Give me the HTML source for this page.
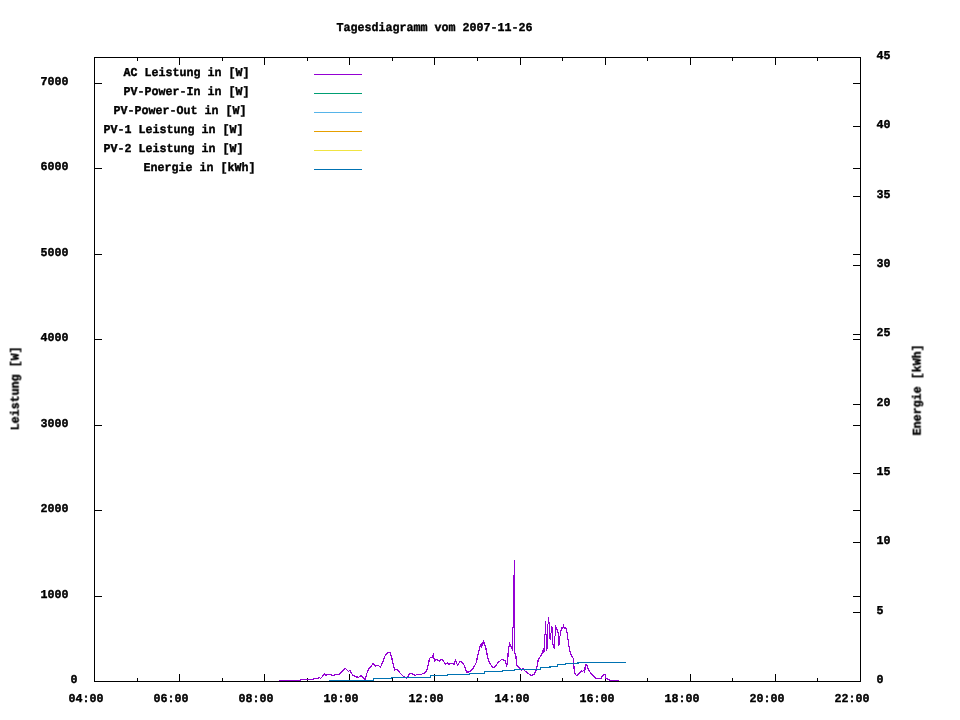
<!DOCTYPE html>
<html lang="de"><head><meta charset="utf-8"><title>Tagesdiagramm vom 2007-11-26</title>
<style>
html,body{margin:0;padding:0;background:#fff;}
svg{display:block}
text{font-family:"Liberation Mono","DejaVu Sans Mono",monospace;font-weight:bold;font-size:12.0px;text-rendering:geometricPrecision;fill:#000;stroke:#000;stroke-width:0.4px;stroke-linejoin:round;}
.t{filter:grayscale(1);}
</style></head><body>
<svg width="960" height="720" viewBox="0 0 960 720">
<rect x="0" y="0" width="960" height="720" fill="#fff"/>
<g shape-rendering="crispEdges">
<rect x="94" y="57" width="767" height="1" fill="#000"/>
<rect x="94" y="681" width="767" height="1" fill="#000"/>
<rect x="94" y="57" width="1" height="625" fill="#000"/>
<rect x="860" y="57" width="1" height="625" fill="#000"/>
<rect x="94" y="674" width="1" height="8" fill="#000"/>
<rect x="94" y="57" width="1" height="8" fill="#000"/>
<rect x="137" y="678" width="1" height="4" fill="#000"/>
<rect x="137" y="57" width="1" height="4" fill="#000"/>
<rect x="179" y="674" width="1" height="8" fill="#000"/>
<rect x="179" y="57" width="1" height="8" fill="#000"/>
<rect x="222" y="678" width="1" height="4" fill="#000"/>
<rect x="222" y="57" width="1" height="4" fill="#000"/>
<rect x="264" y="674" width="1" height="8" fill="#000"/>
<rect x="264" y="57" width="1" height="8" fill="#000"/>
<rect x="307" y="678" width="1" height="4" fill="#000"/>
<rect x="307" y="57" width="1" height="4" fill="#000"/>
<rect x="349" y="674" width="1" height="8" fill="#000"/>
<rect x="349" y="57" width="1" height="8" fill="#000"/>
<rect x="392" y="678" width="1" height="4" fill="#000"/>
<rect x="392" y="57" width="1" height="4" fill="#000"/>
<rect x="434" y="674" width="1" height="8" fill="#000"/>
<rect x="434" y="57" width="1" height="8" fill="#000"/>
<rect x="477" y="678" width="1" height="4" fill="#000"/>
<rect x="477" y="57" width="1" height="4" fill="#000"/>
<rect x="520" y="674" width="1" height="8" fill="#000"/>
<rect x="520" y="57" width="1" height="8" fill="#000"/>
<rect x="562" y="678" width="1" height="4" fill="#000"/>
<rect x="562" y="57" width="1" height="4" fill="#000"/>
<rect x="605" y="674" width="1" height="8" fill="#000"/>
<rect x="605" y="57" width="1" height="8" fill="#000"/>
<rect x="647" y="678" width="1" height="4" fill="#000"/>
<rect x="647" y="57" width="1" height="4" fill="#000"/>
<rect x="690" y="674" width="1" height="8" fill="#000"/>
<rect x="690" y="57" width="1" height="8" fill="#000"/>
<rect x="732" y="678" width="1" height="4" fill="#000"/>
<rect x="732" y="57" width="1" height="4" fill="#000"/>
<rect x="775" y="674" width="1" height="8" fill="#000"/>
<rect x="775" y="57" width="1" height="8" fill="#000"/>
<rect x="817" y="678" width="1" height="4" fill="#000"/>
<rect x="817" y="57" width="1" height="4" fill="#000"/>
<rect x="860" y="674" width="1" height="8" fill="#000"/>
<rect x="860" y="57" width="1" height="8" fill="#000"/>
<rect x="94" y="681" width="8" height="1" fill="#000"/>
<rect x="853" y="681" width="8" height="1" fill="#000"/>
<rect x="94" y="596" width="8" height="1" fill="#000"/>
<rect x="853" y="596" width="8" height="1" fill="#000"/>
<rect x="94" y="510" width="8" height="1" fill="#000"/>
<rect x="853" y="510" width="8" height="1" fill="#000"/>
<rect x="94" y="425" width="8" height="1" fill="#000"/>
<rect x="853" y="425" width="8" height="1" fill="#000"/>
<rect x="94" y="339" width="8" height="1" fill="#000"/>
<rect x="853" y="339" width="8" height="1" fill="#000"/>
<rect x="94" y="254" width="8" height="1" fill="#000"/>
<rect x="853" y="254" width="8" height="1" fill="#000"/>
<rect x="94" y="168" width="8" height="1" fill="#000"/>
<rect x="853" y="168" width="8" height="1" fill="#000"/>
<rect x="94" y="83" width="8" height="1" fill="#000"/>
<rect x="853" y="83" width="8" height="1" fill="#000"/>
<rect x="853" y="681" width="8" height="1" fill="#000"/>
<rect x="853" y="612" width="8" height="1" fill="#000"/>
<rect x="853" y="542" width="8" height="1" fill="#000"/>
<rect x="853" y="473" width="8" height="1" fill="#000"/>
<rect x="853" y="404" width="8" height="1" fill="#000"/>
<rect x="853" y="334" width="8" height="1" fill="#000"/>
<rect x="853" y="265" width="8" height="1" fill="#000"/>
<rect x="853" y="196" width="8" height="1" fill="#000"/>
<rect x="853" y="126" width="8" height="1" fill="#000"/>
<rect x="853" y="57" width="8" height="1" fill="#000"/>
<rect x="314" y="74" width="48" height="1" fill="#9400d3"/>
<rect x="314" y="93" width="48" height="1" fill="#009e73"/>
<rect x="314" y="112" width="48" height="1" fill="#56b4e9"/>
<rect x="314" y="131" width="48" height="1" fill="#e69f00"/>
<rect x="314" y="150" width="48" height="1" fill="#f0e442"/>
<rect x="314" y="169" width="48" height="1" fill="#0072b2"/>
<polyline points="279.00,680.50 300.40,680.50 300.60,679.50 313.00,679.50 313.50,678.50 318.00,678.50 319.50,677.50 320.50,678.50 324.60,674.20 325.80,675.20 327.50,674.20 330.00,674.20 331.70,675.40 334.20,675.40 335.80,674.20 339.20,674.20 345.40,668.30 348.50,671.40 350.00,670.40 352.50,675.00 356.70,677.00 358.75,677.30 361.25,675.40 365.00,679.20 367.00,673.00 368.30,669.60 373.30,663.30 375.40,666.00 378.30,665.40 380.40,667.30 382.00,663.75 385.40,655.00 388.75,652.30 390.40,653.00 391.70,657.50 394.60,670.00 397.00,669.20 399.60,672.50 403.30,676.40 406.70,678.30 409.60,673.75 412.00,673.50 415.00,675.40 417.50,674.40 421.70,674.20 423.30,673.30 424.20,673.30 426.70,670.80 428.30,664.20 429.60,658.30 431.25,657.30 432.50,657.00 433.50,653.30 433.80,658.00 434.80,661.00 435.80,659.30 439.20,661.00 440.80,659.30 442.50,659.60 445.40,664.20 447.30,662.70 448.75,664.30 450.40,663.30 454.20,664.20 455.40,660.40 457.50,665.20 460.00,661.50 462.50,662.50 464.20,665.40 466.70,672.00 468.30,672.00 470.80,670.80 473.30,668.30 476.25,662.50 478.30,653.30 480.40,645.40 481.20,644.20 481.60,646.60 482.50,644.60 483.75,640.40 484.20,644.20 485.40,645.80 487.50,656.70 489.60,663.30 492.50,667.00 494.20,667.30 495.00,666.70 498.30,662.50 502.00,659.20 505.00,660.80 506.70,665.40 507.50,663.30 508.30,650.00 509.60,643.30 510.40,645.00 511.25,647.50 512.00,648.75 512.50,640.00 512.50,628.00 513.50,627.00 513.50,575.50 514.50,574.50 514.50,560.00 514.50,652.50 515.70,654.20 516.80,665.40 519.20,667.50 521.70,670.40 523.00,668.30 524.60,670.60 530.80,675.40 532.50,675.25 534.60,673.75 535.60,671.70 537.50,664.20 538.30,659.20 539.50,657.50 540.50,656.40 541.50,654.50 542.50,652.50 543.50,648.50 543.60,652.00 544.50,651.00 544.50,635.50 545.50,634.00 545.50,621.50 545.60,634.00 546.50,635.00 546.50,649.50 547.50,648.00 547.50,624.50 548.50,623.50 548.50,617.50 548.60,623.00 549.50,623.00 549.50,638.00 550.50,639.00 550.50,633.50 551.50,632.50 551.50,626.50 552.50,628.50 552.50,644.00 553.50,645.00 553.50,647.50 554.50,648.00 554.50,636.50 555.50,635.50 555.50,626.50 556.50,628.00 557.50,631.00 558.50,633.50 558.50,646.00 559.50,644.00 559.50,636.50 560.50,635.50 560.50,631.50 561.50,630.00 561.50,627.50 562.50,628.40 563.50,626.00 564.50,628.40 565.50,627.50 566.50,629.50 566.50,632.00 567.50,633.50 567.50,639.00 568.50,640.50 568.50,646.00 569.50,647.50 569.50,651.00 570.50,652.00 570.50,654.00 571.50,655.00 572.50,657.50 573.30,658.30 574.20,670.00 575.40,674.60 577.00,675.60 581.25,670.80 582.50,671.40 583.70,670.50 584.60,672.00 585.40,665.40 586.70,664.30 587.50,668.00 591.70,674.60 594.20,676.25 595.80,678.30 601.25,678.30 602.50,675.60 605.00,674.20 605.80,678.30 608.30,679.60 610.40,680.60 618.75,680.60" fill="none" stroke="#9400d3" stroke-width="1.25" stroke-linejoin="miter" shape-rendering="crispEdges"/>
<polyline points="329.20,680.50 373.30,680.50 373.30,678.40 391.25,678.40 391.25,677.50 430.40,677.50 430.40,675.60 447.50,675.60 447.50,674.20 469.20,674.20 469.20,673.30 484.60,673.30 484.60,671.40 502.50,671.40 502.50,670.60 514.20,670.60 514.20,669.30 540.40,669.30 540.40,667.50 550.00,667.50 550.00,666.40 557.50,666.40 557.50,664.30 565.40,664.30 565.40,663.50 578.00,663.50 578.00,662.40 625.80,662.40" fill="none" stroke="#0072b2" stroke-width="1.25" stroke-linejoin="miter" shape-rendering="crispEdges"/>
</g>
<g class="t">
<text x="68.6" y="701.8" textLength="35" lengthAdjust="spacingAndGlyphs">04:00</text>
<text x="153.6" y="701.8" textLength="35" lengthAdjust="spacingAndGlyphs">06:00</text>
<text x="238.6" y="701.8" textLength="35" lengthAdjust="spacingAndGlyphs">08:00</text>
<text x="323.6" y="701.8" textLength="35" lengthAdjust="spacingAndGlyphs">10:00</text>
<text x="408.6" y="701.8" textLength="35" lengthAdjust="spacingAndGlyphs">12:00</text>
<text x="494.6" y="701.8" textLength="35" lengthAdjust="spacingAndGlyphs">14:00</text>
<text x="579.6" y="701.8" textLength="35" lengthAdjust="spacingAndGlyphs">16:00</text>
<text x="664.6" y="701.8" textLength="35" lengthAdjust="spacingAndGlyphs">18:00</text>
<text x="749.6" y="701.8" textLength="35" lengthAdjust="spacingAndGlyphs">20:00</text>
<text x="834.6" y="701.8" textLength="35" lengthAdjust="spacingAndGlyphs">22:00</text>
<text x="70.6" y="682.8" textLength="7" lengthAdjust="spacingAndGlyphs">0</text>
<text x="40.6" y="597.8" textLength="28" lengthAdjust="spacingAndGlyphs">1000</text>
<text x="40.6" y="511.8" textLength="28" lengthAdjust="spacingAndGlyphs">2000</text>
<text x="40.6" y="426.8" textLength="28" lengthAdjust="spacingAndGlyphs">3000</text>
<text x="40.6" y="340.8" textLength="28" lengthAdjust="spacingAndGlyphs">4000</text>
<text x="40.6" y="255.8" textLength="28" lengthAdjust="spacingAndGlyphs">5000</text>
<text x="40.6" y="169.8" textLength="28" lengthAdjust="spacingAndGlyphs">6000</text>
<text x="40.6" y="84.8" textLength="28" lengthAdjust="spacingAndGlyphs">7000</text>
<text x="876.6" y="682.8" textLength="7" lengthAdjust="spacingAndGlyphs">0</text>
<text x="876.6" y="613.8" textLength="7" lengthAdjust="spacingAndGlyphs">5</text>
<text x="876.6" y="543.8" textLength="14" lengthAdjust="spacingAndGlyphs">10</text>
<text x="876.6" y="474.8" textLength="14" lengthAdjust="spacingAndGlyphs">15</text>
<text x="876.6" y="405.8" textLength="14" lengthAdjust="spacingAndGlyphs">20</text>
<text x="876.6" y="335.8" textLength="14" lengthAdjust="spacingAndGlyphs">25</text>
<text x="876.6" y="266.8" textLength="14" lengthAdjust="spacingAndGlyphs">30</text>
<text x="876.6" y="197.8" textLength="14" lengthAdjust="spacingAndGlyphs">35</text>
<text x="876.6" y="127.8" textLength="14" lengthAdjust="spacingAndGlyphs">40</text>
<text x="876.6" y="58.8" textLength="14" lengthAdjust="spacingAndGlyphs">45</text>
<text x="336.6" y="30.8" textLength="196" lengthAdjust="spacingAndGlyphs">Tagesdiagramm vom 2007-11-26</text>
<text transform="translate(18.6,430.4) rotate(-90)" x="0" y="0" textLength="84" lengthAdjust="spacingAndGlyphs">Leistung [W]</text>
<text transform="translate(920.6,435.4) rotate(-90)" x="0" y="0" textLength="91" lengthAdjust="spacingAndGlyphs">Energie [kWh]</text>
<text x="123.6" y="75.8" textLength="126" lengthAdjust="spacingAndGlyphs">AC Leistung in [W]</text>
<text x="123.6" y="94.8" textLength="126" lengthAdjust="spacingAndGlyphs">PV-Power-In in [W]</text>
<text x="113.6" y="113.8" textLength="133" lengthAdjust="spacingAndGlyphs">PV-Power-Out in [W]</text>
<text x="103.6" y="132.8" textLength="140" lengthAdjust="spacingAndGlyphs">PV-1 Leistung in [W]</text>
<text x="103.6" y="151.8" textLength="140" lengthAdjust="spacingAndGlyphs">PV-2 Leistung in [W]</text>
<text x="143.6" y="170.8" textLength="112" lengthAdjust="spacingAndGlyphs">Energie in [kWh]</text>
</g>
</svg>
</body></html>
